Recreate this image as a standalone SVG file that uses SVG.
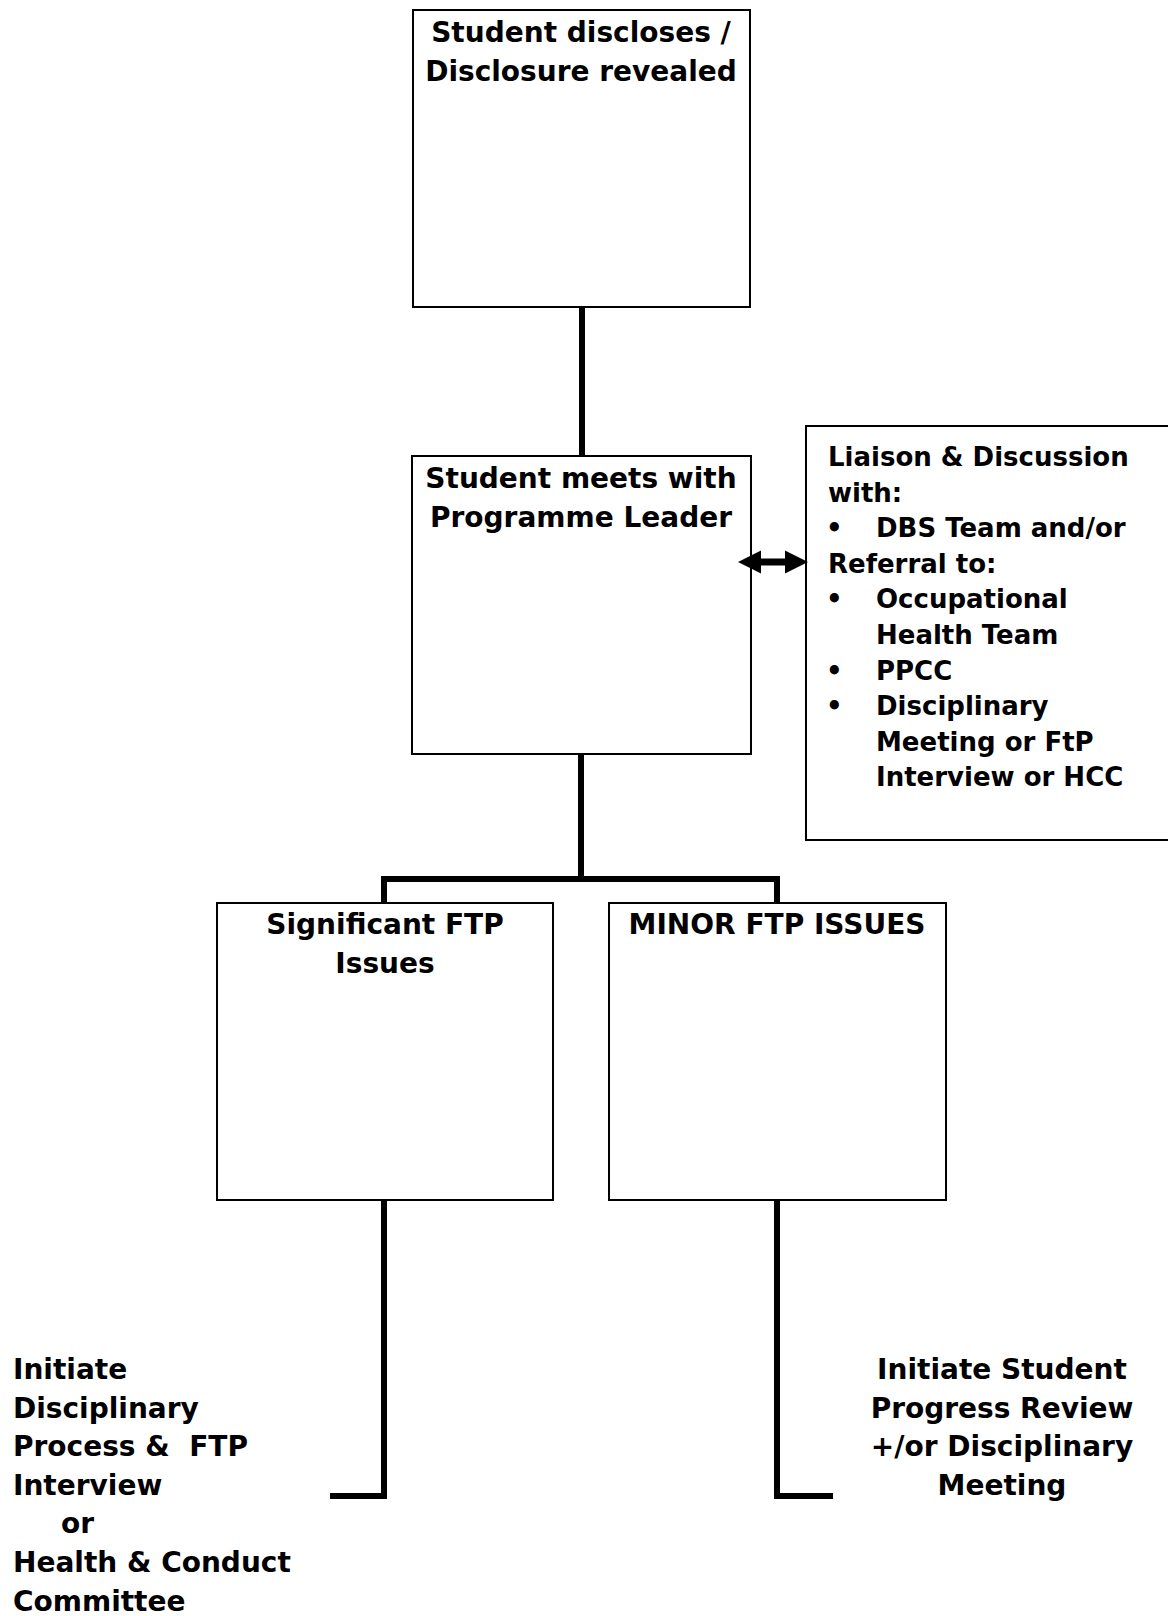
<svg xmlns="http://www.w3.org/2000/svg" width="1168" height="1616" viewBox="0 0 1168 1616">
<style>
.box{fill:#fff;stroke:#000;stroke-width:2}
.con{fill:none;stroke:#000;stroke-width:6;stroke-linejoin:miter;stroke-linecap:butt}
text{font-family:"DejaVu Sans","Verdana",sans-serif;font-weight:bold;fill:#000}
.t28{font-size:28px}
.t26{font-size:26px}
.c{text-anchor:middle}
</style>
<rect width="1168" height="1616" fill="#fff"/>
<g id="node-disclose">
<rect class="box" x="413" y="10" width="337" height="297"/>
<text class="t28 c" x="581" y="42">Student discloses /</text>
<text class="t28 c" x="581" y="81">Disclosure revealed</text>
</g>
<g id="node-meets">
<rect class="box" x="412" y="456" width="339" height="298"/>
<text class="t28 c" x="581" y="488">Student meets with</text>
<text class="t28 c" x="581" y="527">Programme Leader</text>
</g>
<g id="node-liaison">
<rect class="box" x="806" y="426" width="390" height="414"/>
<text class="t26" x="828" y="466">Liaison &amp; Discussion</text>
<text class="t26" x="828" y="501.6">with:</text>
<text class="t26" x="826" y="537.2">•</text>
<text class="t26" x="876" y="537.2">DBS Team and/or</text>
<text class="t26" x="828" y="572.8">Referral to:</text>
<text class="t26" x="826" y="608.4">•</text>
<text class="t26" x="876" y="608.4">Occupational</text>
<text class="t26" x="876" y="644">Health Team</text>
<text class="t26" x="826" y="679.6">•</text>
<text class="t26" x="876" y="679.6">PPCC</text>
<text class="t26" x="826" y="715.2">•</text>
<text class="t26" x="876" y="715.2">Disciplinary</text>
<text class="t26" x="876" y="750.8">Meeting or FtP</text>
<text class="t26" x="876" y="786.4">Interview or HCC</text>
</g>
<g id="node-significant">
<rect class="box" x="217" y="903" width="336" height="297"/>
<text class="t28 c" x="385" y="934">Significant FTP</text>
<text class="t28 c" x="385" y="973">Issues</text>
</g>
<g id="node-minor">
<rect class="box" x="609" y="903" width="337" height="297"/>
<text class="t28 c" x="777" y="934">MINOR FTP ISSUES</text>
</g>
<g id="node-disciplinary">
<text class="t28" x="13" y="1379">Initiate</text>
<text class="t28" x="13" y="1417.6">Disciplinary</text>
<text class="t28" x="13" y="1456.2" xml:space="preserve">Process &amp;  FTP</text>
<text class="t28" x="13" y="1494.8">Interview</text>
<text class="t28" x="61" y="1533.4">or</text>
<text class="t28" x="13" y="1572">Health &amp; Conduct</text>
<text class="t28" x="13" y="1610.6">Committee</text>
</g>
<g id="node-progress">
<text class="t28 c" x="1002" y="1379">Initiate Student</text>
<text class="t28 c" x="1002" y="1417.6">Progress Review</text>
<text class="t28 c" x="1002" y="1456.2">+/or Disciplinary</text>
<text class="t28 c" x="1002" y="1494.8">Meeting</text>
</g>
<g id="connectors">
<path class="con" d="M582,308 V455"/>
<path class="con" d="M581,755 V879"/>
<path class="con" d="M384,902 V879 H777 V902"/>
<path class="con" d="M384,1201 V1496 H330"/>
<path class="con" d="M777,1201 V1496 H833"/>
<polygon fill="#000" points="738,562 761,550.5 761,558.5 785,558.5 785,550.5 808,562 785,573.5 785,565.5 761,565.5 761,573.5"/>
</g>
</svg>
